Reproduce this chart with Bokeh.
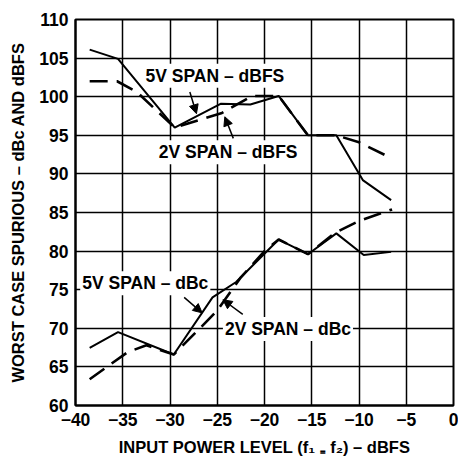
from bokeh.plotting import figure
from bokeh.models import Label, Arrow, NormalHead, FixedTicker
from bokeh.embed import file_html
from bokeh.resources import INLINE

# ---- data ----
x_5v_dbfs = [-38.5, -35.5, -29.5, -24.6, -21.5, -18.5, -15.4, -12.4, -9.6, -6.6]
y_5v_dbfs = [106.1, 104.9, 96.0, 99.1, 99.0, 100.1, 95.0, 95.0, 89.2, 86.6]

x_2v_dbfs = [-38.5, -35.6, -33.5, -29.5, -24.5, -21.3, -18.5, -15.4, -12.4, -10.0, -6.5]
y_2v_dbfs = [102.0, 102.0, 100.6, 96.0, 97.9, 100.1, 100.1, 95.0, 95.0, 94.1, 92.0]

x_5v_dbc = [-38.5, -35.5, -29.6, -25.5, -23.0, -18.5, -15.4, -12.4, -9.5, -6.6]
y_5v_dbc = [67.45, 69.5, 66.6, 74.0, 76.0, 81.5, 79.6, 82.3, 79.5, 79.9]

x_2v_dbc = [-38.5, -34.5, -32.5, -29.6, -27.0, -25.0, -22.5, -20.0, -18.5, -15.4, -12.5, -10.0, -6.5]
y_2v_dbc = [63.4, 66.9, 67.8, 66.6, 69.8, 72.3, 76.6, 80.0, 81.5, 79.6, 82.4, 83.9, 85.4]

x_ticks = [-40, -35, -30, -25, -20, -15, -10, -5, 0]
x_tick_labels = ["\u221240", "\u221235", "\u221230", "\u221225", "\u221220",
                 "\u221215", "\u221210", "\u22125", "0"]
y_ticks = [60, 65, 70, 75, 80, 85, 90, 95, 100, 105, 110]
y_tick_labels = ["60", "65", "70", "75", "80", "85", "90", "95", "100", "105", "110"]

x_title = "INPUT POWER LEVEL (f\u2081 \u208c f\u2082) \u2013 dBFS"
y_title = "WORST CASE SPURIOUS \u2013 dBc AND dBFS"

FONT = "Liberation Sans"
FS = "17.5px"
TFS = "16.5px"

p = figure(width=458, height=458, x_range=(-40, 0), y_range=(60, 110),
           output_backend="svg", toolbar_location=None,
           min_border_left=75, min_border_right=5, min_border_top=19,
           min_border_bottom=52)

p.background_fill_color = "white"
p.border_fill_color = "white"
p.outline_line_color = "black"
p.outline_line_width = 2

for ax, ticks, labels in ((p.xaxis[0], x_ticks, x_tick_labels),
                          (p.yaxis[0], y_ticks, y_tick_labels)):
    ax.ticker = FixedTicker(ticks=ticks)
    ax.major_label_overrides = {t: l for t, l in zip(ticks, labels)}
    ax.major_tick_in = 0
    ax.major_tick_out = 0
    ax.minor_tick_in = 0
    ax.minor_tick_out = 0
    ax.axis_line_color = "black"
    ax.axis_line_width = 2
    ax.major_label_text_font = FONT
    ax.major_label_text_font_size = FS
    ax.major_label_text_font_style = "bold"
    ax.major_label_text_color = "black"
    ax.axis_label_text_font = FONT
    ax.axis_label_text_font_size = TFS
    ax.axis_label_text_font_style = "bold"
    ax.axis_label_text_color = "black"

p.xaxis.major_label_standoff = 7
p.yaxis.major_label_standoff = 7
p.xaxis.axis_label = x_title
p.yaxis.axis_label = y_title
p.xaxis.axis_label_standoff = 9
p.yaxis.axis_label_standoff = 9

p.xgrid.ticker = FixedTicker(ticks=x_ticks)
p.ygrid.ticker = FixedTicker(ticks=y_ticks)
for g in (p.xgrid[0], p.ygrid[0]):
    g.grid_line_color = "black"
    g.grid_line_width = 1.5

# ---- curves ----
p.line(x_5v_dbfs, y_5v_dbfs, line_color="black", line_width=2)
p.line(x_2v_dbfs, y_2v_dbfs, line_color="black", line_width=2.6, line_dash="18 9")
p.line(x_5v_dbc, y_5v_dbc, line_color="black", line_width=2)
p.line(x_2v_dbc, y_2v_dbc, line_color="black", line_width=2.6, line_dash="18 9")

# ---- annotations ----
labels = [
    ("5V SPAN \u2013 dBFS", -32.8, 102.7),
    ("2V SPAN \u2013 dBFS", -31.4, 92.8),
    ("5V SPAN \u2013 dBc", -39.5, 75.85),
    ("2V SPAN \u2013 dBc", -24.4, 69.9),
]
for txt, lx, ly in labels:
    p.add_layout(Label(x=lx, y=ly, text=txt, text_font=FONT, text_font_size=FS,
                       text_font_style="bold", text_color="black",
                       text_baseline="middle", text_align="left",
                       background_fill_color="white", padding=2))

arrows = [
    (-27.9, 100.6, -27.2, 97.8),
    (-23.3, 94.6, -24.2, 97.4),
    (-28.5, 74.0, -26.6, 72.0),
    (-22.3, 71.8, -24.4, 73.7),
]
for xs, ys, xe, ye in arrows:
    p.add_layout(Arrow(x_start=xs, y_start=ys, x_end=xe, y_end=ye,
                       line_color="black", line_width=1.5,
                       end=NormalHead(size=9, fill_color="black",
                                      line_color="black", line_width=1)))

open("out.html", "w").write(file_html(p, INLINE))
